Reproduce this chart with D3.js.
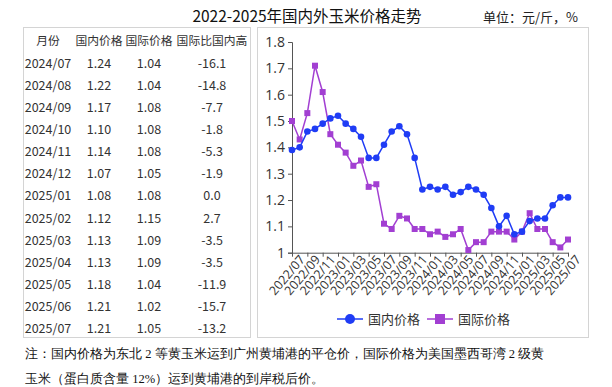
<!DOCTYPE html>
<html>
<head>
<meta charset="utf-8">
<script src="https://cdn.jsdelivr.net/npm/d3@7"></script>
<style>
  body { margin: 0; background: #fff; }
  svg { display: block; }
</style>
</head>
<body>
<svg id="chart" width="612" height="387"></svg>
<script>
// monthly series, 2022/07 - 2025/07
var months = [];
for (var y = 2022; y <= 2025; y++) {
    for (var m = 1; m <= 12; m++) {
        if ((y == 2022 && m < 7) || (y == 2025 && m > 7)) continue;
        months.push(y + "/" + (m < 10 ? "0" + m : m));
    }
}
var domestic = [1.39, 1.40, 1.46, 1.47, 1.49, 1.51,
    1.52, 1.49, 1.47, 1.44, 1.36, 1.36, 1.41, 1.46, 1.48, 1.45, 1.36, 1.24,
    1.25, 1.24, 1.25, 1.22, 1.23, 1.25, 1.24, 1.22, 1.17, 1.10, 1.14, 1.07,
    1.08, 1.12, 1.13, 1.13, 1.18, 1.21, 1.21];
var intl = [1.50, 1.43, 1.53, 1.71, 1.61, 1.45,
    1.41, 1.38, 1.33, 1.35, 1.25, 1.26, 1.11, 1.09, 1.14, 1.13, 1.09, 1.09,
    1.07, 1.08, 1.06, 1.07, 1.09, 1.01, 1.04, 1.04, 1.08, 1.08, 1.08, 1.05,
    1.08, 1.15, 1.09, 1.09, 1.04, 1.02, 1.05];
var yTicks = [1, 1.1, 1.2, 1.3, 1.4, 1.5, 1.6, 1.7, 1.8];

// table on the left
var tableHead = ["月份", "国内价格", "国际价格", "国际比国内高"];
var tableMonths = ["2024/07", "2024/08", "2024/09", "2024/10", "2024/11", "2024/12",
    "2025/01", "2025/02", "2025/03", "2025/04", "2025/05", "2025/06", "2025/07"];
var tableDom = ["1.24", "1.22", "1.17", "1.10", "1.14", "1.07", "1.08", "1.12", "1.13", "1.13", "1.18", "1.21", "1.21"];
var tableIntl = ["1.04", "1.04", "1.08", "1.08", "1.08", "1.05", "1.08", "1.15", "1.09", "1.09", "1.04", "1.02", "1.05"];
var tableDiff = ["-16.1", "-14.8", "-7.7", "-1.8", "-5.3", "-1.9", "0.0", "2.7", "-3.5", "-3.5", "-11.9", "-15.7", "-13.2"];

var blue = "#1f3cf5", purple = "#a23fd2";
var sans = "'Noto Sans CJK SC', 'Open Sans', sans-serif";

var svg = d3.select("#chart");

// title + unit
svg.append("text")
    .attr("x", 307).attr("y", 22)
    .attr("text-anchor", "middle")
    .style("font-family", sans).style("font-size", "15.5px").style("fill", "#111")
    .text("2022-2025年国内外玉米价格走势");
svg.append("text")
    .attr("x", 578).attr("y", 22)
    .attr("text-anchor", "end")
    .style("font-family", sans).style("font-size", "13px").style("fill", "#222")
    .text("单位：元/斤，%");

// boxes
svg.append("rect").attr("x", 23.5).attr("y", 27.5).attr("width", 227).attr("height", 310)
    .attr("fill", "none").attr("stroke", "#d4d4d4");
svg.append("rect").attr("x", 257.5).attr("y", 27.5).attr("width", 331).attr("height", 310)
    .attr("fill", "none").attr("stroke", "#d4d4d4");

// table
var colX = [48, 99, 149, 212];
var rowY = d3.scaleLinear().domain([0, 13]).range([41, 329]);
var tbl = svg.append("g").style("font-family", sans).style("font-size", "12.5px").style("fill", "#333");
tableHead.forEach(function (h, i) {
    tbl.append("text").attr("x", colX[i]).attr("y", rowY(0))
        .attr("dy", "0.35em").attr("text-anchor", "middle")
        .style("font-size", "11.8px").text(h);
});
tableMonths.forEach(function (mo, r) {
    var row = [mo, tableDom[r], tableIntl[r], tableDiff[r]];
    row.forEach(function (v, i) {
        tbl.append("text").attr("x", colX[i]).attr("y", rowY(r + 1))
            .attr("dy", "0.35em").attr("text-anchor", "middle").text(v);
    });
});

// line chart
var x = d3.scalePoint().domain(months).range([292, 568]);
var yScale = d3.scaleLinear().domain([1, 1.8]).range([252.7, 42]);

var g = svg.append("g");

g.append("g")
    .attr("transform", "translate(292,0)")
    .call(d3.axisLeft(yScale).tickValues(yTicks).tickSize(4).tickFormat(d3.format("~g")))
    .call(function (a) {
        a.select(".domain").attr("stroke", "#555");
        a.selectAll(".tick line").attr("stroke", "#555");
        a.selectAll("text").style("font-family", "'Open Sans', sans-serif")
            .style("font-size", "14px").style("fill", "#333");
    });

var xLabels = months.filter(function (d, i) { return i % 2 == 0; });
g.append("g")
    .attr("transform", "translate(0,252.7)")
    .call(d3.axisBottom(x).tickValues(xLabels).tickSize(4).tickSizeOuter(0))
    .call(function (a) {
        a.select(".domain").attr("stroke", "#555");
        a.selectAll(".tick line").attr("stroke", "#555");
        a.selectAll("text")
            .style("font-family", "'Open Sans', sans-serif")
            .style("font-size", "12.5px").style("fill", "#333")
            .attr("text-anchor", "end")
            .attr("dx", "3").attr("dy", "0.6em")
            .attr("transform", "rotate(-50)");
    });

var line = d3.line()
    .x(function (d, i) { return x(months[i]); })
    .y(function (d) { return yScale(d); });

g.append("path").datum(intl)
    .attr("d", line).attr("fill", "none").attr("stroke", purple).attr("stroke-width", 1.5);
g.selectAll(".sq").data(intl).enter().append("rect")
    .attr("x", function (d, i) { return x(months[i]) - 3; })
    .attr("y", function (d) { return yScale(d) - 3; })
    .attr("width", 6).attr("height", 6).attr("fill", purple);

g.append("path").datum(domestic)
    .attr("d", line).attr("fill", "none").attr("stroke", blue).attr("stroke-width", 1.5);
g.selectAll(".dot").data(domestic).enter().append("circle")
    .attr("cx", function (d, i) { return x(months[i]); })
    .attr("cy", function (d) { return yScale(d); })
    .attr("r", 3.3).attr("fill", blue);

// legend
var leg = svg.append("g").style("font-family", sans).style("font-size", "13px").style("fill", "#333");
var legItems = [
    { name: "国内价格", color: blue, x0: 337, shape: "circle" },
    { name: "国际价格", color: purple, x0: 427, shape: "square" }
];
legItems.forEach(function (it) {
    leg.append("line").attr("x1", it.x0).attr("x2", it.x0 + 26).attr("y1", 319).attr("y2", 319)
        .attr("stroke", it.color).attr("stroke-width", 1.5);
    if (it.shape == "circle") {
        leg.append("circle").attr("cx", it.x0 + 13).attr("cy", 319).attr("r", 5).attr("fill", it.color);
    } else {
        leg.append("rect").attr("x", it.x0 + 8).attr("y", 314).attr("width", 10).attr("height", 10).attr("fill", it.color);
    }
    leg.append("text").attr("x", it.x0 + 31).attr("y", 319).attr("dy", "0.35em").text(it.name);
});

// note
var note = svg.append("g").style("font-family", "serif").style("font-size", "12.5px").style("fill", "#111");
note.append("text").attr("x", 25).attr("y", 358)
    .text("注：国内价格为东北 2 等黄玉米运到广州黄埔港的平仓价，国际价格为美国墨西哥湾 2 级黄");
note.append("text").attr("x", 25).attr("y", 383)
    .text("玉米（蛋白质含量 12%）运到黄埔港的到岸税后价。");
</script>
</body>
</html>
